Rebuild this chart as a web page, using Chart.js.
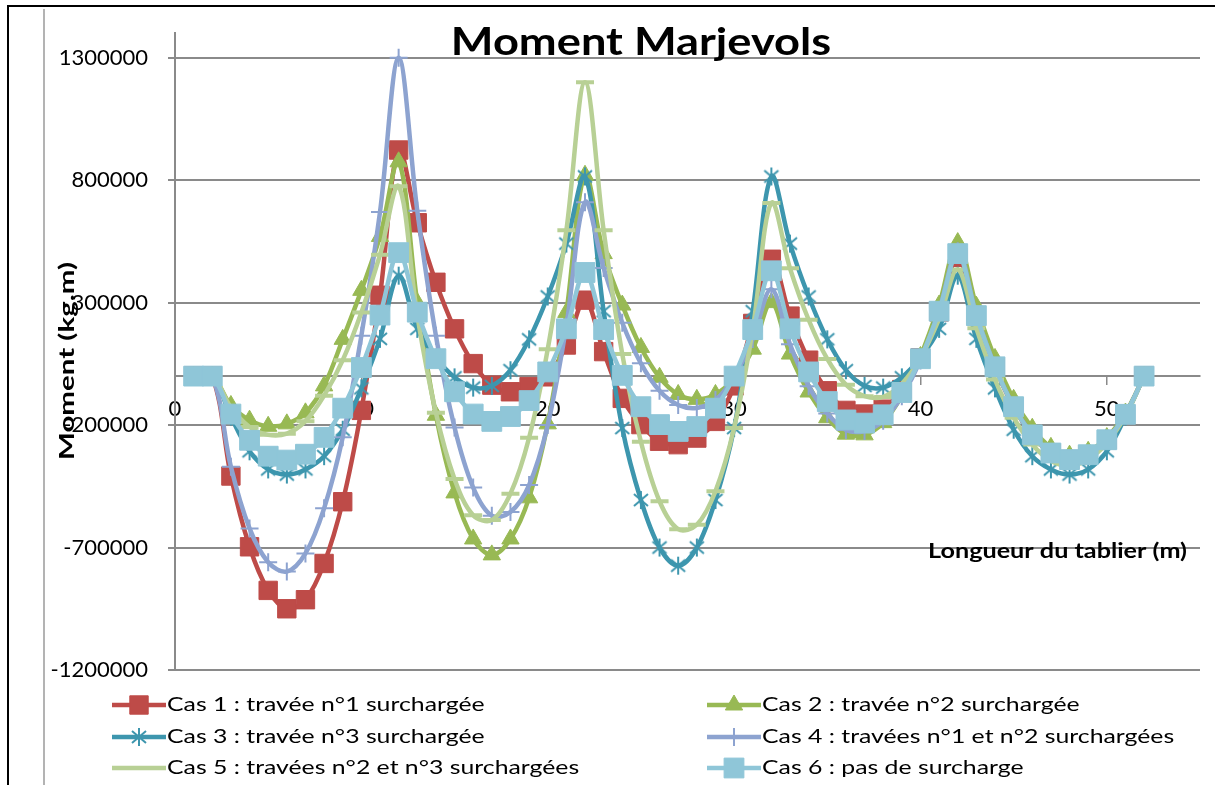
<!DOCTYPE html>
<html>
<head>
<meta charset="utf-8">
<script src="https://cdn.jsdelivr.net/npm/chart.js@4.4.0/dist/chart.umd.min.js"></script>
<style>
  html, body { margin: 0; padding: 0; background: #fff; }
  #cadre { position: relative; width: 1215px; height: 785px; }
</style>
</head>
<body>
<div id="cadre"><canvas id="moment" width="1215" height="785"></canvas></div>
<script>
var titreGraphique = 'Moment Marjevols';
var titreX = 'Longueur du tablier (m)';
var titreY = 'Moment (kg.m)';

var ticksY = [-1200000, -700000, -200000, 300000, 800000, 1300000];
var ticksX = [0, 10, 20, 30, 40, 50];

var nomsCas = [
  'Cas 1 : travée n°1 surchargée',
  'Cas 2 : travée n°2 surchargée',
  'Cas 3 : travée n°3 surchargée',
  'Cas 4 : travées n°1 et n°2 surchargées',
  'Cas 5 : travées n°2 et n°3 surchargées',
  'Cas 6 : pas de surcharge'
];

var longueurs = [1, 2, 3, 4, 5, 6, 7, 8, 9, 10, 11, 12, 13, 14, 15, 16, 17, 18, 19, 20,
  21, 22, 23, 24, 25, 26, 27, 28, 29, 30, 31, 32, 33, 34, 35, 36, 37, 38, 39, 40,
  41, 42, 43, 44, 45, 46, 47, 48, 49, 50, 51, 52];

var cas1 = [0, 0, -408000, -697000, -875000, -950000, -913000, -765000, -513000, -140000,
  330000, 923000, 626000, 383000, 193000, 51000, -37000, -64000, -43000, -3000,
  127000, 310000, 100000, -91000, -198000, -266000, -280000, -253000, -185000, -40000,
  215000, 477000, 245000, 65000, -60000, -140000, -155000, -135000, -55000, 75000,
  262000, 485000, 245000, 37000, -126000, -241000, -315000, -341000, -321000, -260000,
  -156000, 0];

var cas2 = [0, 0, -120000, -180000, -205000, -195000, -150000, -40000, 150000, 350000,
  570000, 875000, 300000, -160000, -477000, -665000, -730000, -665000, -497000, -195000,
  260000, 820000, 500000, 290000, 117000, -5000, -75000, -95000, -75000, -10000,
  110000, 300000, 90000, -65000, -170000, -237000, -240000, -190000, -80000, 80000,
  290000, 545000, 285000, 72000, -95000, -213000, -291000, -323000, -307000, -251000,
  -151000, 0];

var cas3 = [0, 0, -165000, -307000, -381000, -402000, -381000, -327000, -219000, -50000,
  152000, 410000, 193000, 75000, -5000, -47000, -40000, 24000, 150000, 325000,
  541000, 815000, 265000, -212000, -506000, -700000, -774000, -700000, -506000, -212000,
  265000, 815000, 541000, 325000, 150000, 24000, -40000, -47000, -5000, 75000,
  193000, 410000, 152000, -50000, -219000, -327000, -381000, -402000, -381000, -307000,
  -165000, 0];

var cas4 = [0, 0, -370000, -622000, -760000, -798000, -724000, -540000, -250000, 165000,
  670000, 1300000, 675000, 165000, -210000, -455000, -570000, -555000, -445000, -200000,
  205000, 710000, 441000, 218000, 52000, -60000, -118000, -130000, -98000, -3000,
  151000, 355000, 130000, -41000, -153000, -220000, -224000, -182000, -82000, 64000,
  267000, 510000, 250000, 40000, -123000, -238000, -312000, -340000, -320000, -259000,
  -156000, 0];

var cas5 = [0, 0, -128000, -208000, -240000, -235000, -184000, -80000, 65000, 260000,
  495000, 775000, 248000, -150000, -420000, -568000, -588000, -480000, -252000, 110000,
  595000, 1200000, 595000, 90000, -268000, -511000, -625000, -607000, -470000, -212000,
  190000, 707000, 440000, 230000, 70000, -35000, -82000, -85000, -32000, 74000,
  234000, 435000, 195000, -14000, -170000, -279000, -346000, -367000, -340000, -273000,
  -162000, 0];

var cas6 = [0, 0, -155000, -262000, -327000, -343000, -319000, -250000, -131000, 35000,
  249000, 504000, 261000, 71000, -64000, -155000, -185000, -165000, -100000, 17000,
  193000, 423000, 190000, 3000, -125000, -198000, -226000, -206000, -131000, 0,
  190000, 430000, 193000, 17000, -104000, -179000, -192000, -158000, -67000, 71000,
  265000, 500000, 247000, 38000, -125000, -240000, -314000, -341000, -321000, -260000,
  -156000, 0];

var couleurs = ['#BE4B48', '#98B954', '#3D96AE', '#8DA3D0', '#B8D095', '#8FC6D8'];
var police = 'Lato, "Open Sans", sans-serif';

function etoile(couleur) {
  var c = document.createElement('canvas');
  c.width = 20;
  c.height = 20;
  var g = c.getContext('2d');
  g.strokeStyle = couleur;
  g.lineWidth = 2;
  g.beginPath();
  g.moveTo(3, 4); g.lineTo(17, 16);
  g.moveTo(17, 4); g.lineTo(3, 16);
  g.moveTo(10, 1); g.lineTo(10, 19);
  g.stroke();
  return c;
}

var marqueurs = [
  { style: 'rect', rayon: 13, bord: 1 },
  { style: 'triangle', rayon: 10, bord: 1 },
  { style: etoile(couleurs[2]), rayon: 10, bord: 1 },
  { style: 'cross', rayon: 9, bord: 2 },
  { style: 'line', rayon: 9, bord: 4 },
  { style: 'rect', rayon: 14, bord: 1 }
];

function serie(i, valeurs) {
  return {
    label: nomsCas[i],
    data: valeurs.map(function (v, k) { return { x: longueurs[k], y: v }; }),
    borderColor: couleurs[i],
    backgroundColor: couleurs[i],
    borderWidth: 4.5,
    tension: 0.35,
    pointStyle: marqueurs[i].style,
    pointRadius: marqueurs[i].rayon,
    pointHoverRadius: marqueurs[i].rayon,
    pointBorderWidth: marqueurs[i].bord,
    pointBackgroundColor: couleurs[i],
    pointBorderColor: couleurs[i],
    order: 5 - i
  };
}

// texte élargi horizontalement (la police d'origine est plus large)
function texteEtire(ctx, s, x, y, k, align) {
  ctx.save();
  ctx.translate(x, y);
  ctx.scale(k, 1);
  ctx.textAlign = align;
  ctx.fillText(s, 0, 0);
  ctx.restore();
}

var cadrePlugin = {
  id: 'cadre',
  beforeDraw: function (chart) {
    var ctx = chart.ctx;
    ctx.save();
    ctx.fillStyle = '#fff';
    ctx.fillRect(0, 0, chart.width, chart.height);
    ctx.strokeStyle = '#000';
    ctx.lineWidth = 2;
    ctx.beginPath();
    ctx.moveTo(8, 785); ctx.lineTo(8, 6); ctx.lineTo(1215, 6);
    ctx.stroke();
    ctx.strokeStyle = '#9a9a9a';
    ctx.lineWidth = 1.5;
    ctx.beginPath();
    ctx.moveTo(44, 9); ctx.lineTo(44, 785);
    ctx.stroke();
    ctx.restore();
  }
};

var textesPlugin = {
  id: 'textes',
  afterDraw: function (chart) {
    var ctx = chart.ctx;
    ctx.save();
    ctx.fillStyle = '#000';
    ctx.textBaseline = 'alphabetic';
    ctx.font = 'bold 38px ' + police;
    texteEtire(ctx, titreGraphique, 641, 55, 1.19, 'center');

    ctx.font = 'bold 20px ' + police;
    texteEtire(ctx, titreX, 928, 558, 1.26, 'left');

    ctx.font = 'bold 21px ' + police;
    ctx.translate(74, 361);
    ctx.rotate(-Math.PI / 2);
    var k = 198 / ctx.measureText(titreY).width;
    texteEtire(ctx, titreY, 0, 0, k, 'center');
    ctx.restore();

    // légende sur deux colonnes
    var colonnes = [112, 707];
    var lignes = [705, 737, 768];
    chart.data.datasets.forEach(function (ds, i) {
      var x0 = colonnes[i % 2];
      var y = lignes[Math.floor(i / 2)];
      ctx.save();
      ctx.strokeStyle = ds.borderColor;
      ctx.lineWidth = ds.borderWidth;
      ctx.beginPath();
      ctx.moveTo(x0, y);
      ctx.lineTo(x0 + 54, y);
      ctx.stroke();
      ctx.fillStyle = ds.pointBackgroundColor;
      ctx.strokeStyle = ds.pointBorderColor;
      ctx.lineWidth = ds.pointBorderWidth;
      Chart.helpers.drawPoint(ctx, {
        pointStyle: ds.pointStyle,
        radius: ds.pointRadius,
        rotation: 0,
        borderWidth: ds.pointBorderWidth
      }, x0 + 27, y);
      ctx.fillStyle = '#000';
      ctx.font = '20px ' + police;
      ctx.textBaseline = 'middle';
      texteEtire(ctx, ds.label, x0 + 55, y, 1.24, 'left');
      ctx.restore();
    });
  }
};

new Chart(document.getElementById('moment'), {
  type: 'line',
  data: {
    datasets: [
      serie(0, cas1),
      serie(1, cas2),
      serie(2, cas3),
      serie(3, cas4),
      serie(4, cas5),
      serie(5, cas6)
    ]
  },
  options: {
    responsive: false,
    animation: false,
    layout: { padding: { top: 29, right: 14, bottom: 115, left: 0 } },
    plugins: {
      legend: { display: false },
      title: { display: false },
      tooltip: { enabled: false }
    },
    scales: {
      x: {
        type: 'linear',
        min: 0,
        max: 55,
        position: { y: 0 },
        afterBuildTicks: function (s) {
          s.ticks = ticksX.map(function (v) { return { value: v }; });
        },
        grid: { drawOnChartArea: false, drawTicks: true, tickLength: 8, color: '#8a8a8a', lineWidth: 1.5 },
        border: { display: true, color: '#8a8a8a', width: 2 },
        ticks: { font: { family: police, size: 22 }, color: '#000', padding: 12, maxRotation: 0, autoSkip: false }
      },
      y: {
        type: 'linear',
        min: -1200000,
        max: 1400000,
        afterBuildTicks: function (s) {
          s.ticks = ticksY.map(function (v) { return { value: v }; });
        },
        afterFit: function (s) { s.width = 175; },
        grid: { color: '#8a8a8a', lineWidth: 2, tickLength: 7 },
        border: { display: true, color: '#8a8a8a', width: 2 },
        ticks: {
          font: { family: police, size: 22 },
          color: '#000',
          padding: 20,
          callback: function (v) { return String(v); }
        }
      }
    }
  },
  plugins: [cadrePlugin, textesPlugin]
});
</script>
</body>
</html>
